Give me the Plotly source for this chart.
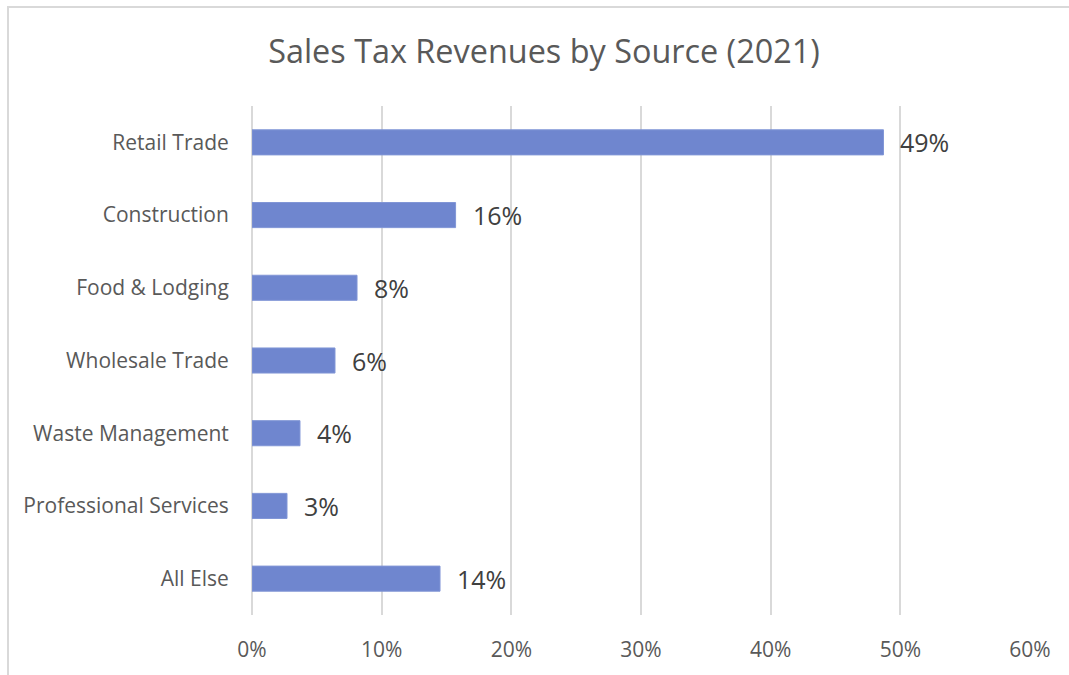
import plotly.graph_objects as go

# Sales tax revenue share by source, 2021
categories = ["Retail Trade", "Construction", "Food & Lodging", "Wholesale Trade",
              "Waste Management", "Professional Services", "All Else"]
shares = [0.487, 0.157, 0.081, 0.064, 0.037, 0.027, 0.145]
tick_vals = [0, 0.1, 0.2, 0.3, 0.4, 0.5, 0.6]
tick_text = ["0%", "10%", "20%", "30%", "40%", "50%", "60%"]

W, H = 1069, 675
ML, MR, MT, MB = 252, 39, 106, 60
FONT = "Open Sans"
BAR_COLOR = "#6f86cf"
GRID = "#d9d9d9"


def px_to_paper_x(px):
    return (px - ML) / (W - ML - MR)


def px_to_paper_y(py):
    return 1 - (py - MT) / (H - MT - MB)


fig = go.Figure(
    go.Bar(
        x=shares,
        y=categories,
        orientation="h",
        marker=dict(color=BAR_COLOR, line=dict(color="#8196d6", width=1)),
        hoverinfo="skip",
    )
)

# value labels just beyond each bar end
for cat, val in zip(categories, shares):
    fig.add_annotation(
        x=val, y=cat, xref="x", yref="y",
        text=f"{val:.0%}", showarrow=False,
        xanchor="left", yanchor="middle", xshift=15,
        font=dict(family=FONT, size=25, color="#404040"),
    )

# light chart frame
fig.add_shape(
    type="rect", xref="paper", yref="paper",
    x0=px_to_paper_x(8), x1=px_to_paper_x(1085),
    y0=px_to_paper_y(690), y1=px_to_paper_y(7),
    line=dict(color=GRID, width=2), fillcolor="rgba(0,0,0,0)", layer="below",
)

fig.update_layout(
    width=W, height=H,
    margin=dict(l=ML, r=MR, t=MT, b=MB),
    paper_bgcolor="white", plot_bgcolor="white",
    showlegend=False,
    bargap=0.655,
    title=dict(
        text="Sales Tax Revenues by Source (2021)",
        xref="container", yref="container",
        x=544 / W, xanchor="center",
        y=1 - 52 / H, yanchor="middle",
        font=dict(family=FONT, size=32.4, color="#595959"),
    ),
    xaxis=dict(
        range=[0, 0.6], tickvals=tick_vals, ticktext=tick_text,
        showgrid=True, gridcolor=GRID, gridwidth=2,
        zeroline=True, zerolinecolor=GRID, zerolinewidth=2,
        showline=False, ticks="outside", ticklen=16, tickcolor="rgba(0,0,0,0)",
        tickfont=dict(family=FONT, size=21, color="#595959"),
        fixedrange=True,
    ),
    yaxis=dict(
        categoryorder="array", categoryarray=categories, autorange="reversed",
        showgrid=False, zeroline=False, showline=False,
        ticks="outside", ticklen=18, tickcolor="rgba(0,0,0,0)",
        tickfont=dict(family=FONT, size=21, color="#595959"),
        fixedrange=True,
    ),
)

fig.write_html("out.html")
